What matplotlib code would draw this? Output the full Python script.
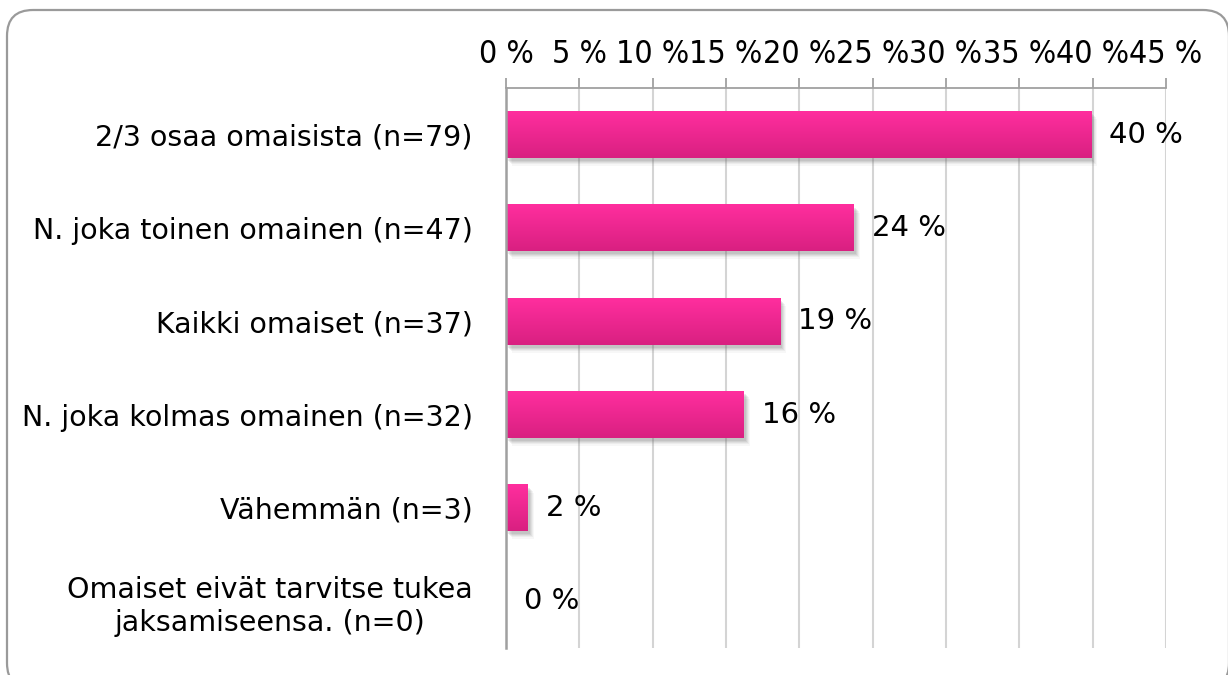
import matplotlib
matplotlib.use("Agg")
import matplotlib.pyplot as plt
import numpy as np
from matplotlib.patches import FancyBboxPatch, Rectangle
from matplotlib.colors import LinearSegmentedColormap
import matplotlib.transforms as mtransforms

categories = [
    "2/3 osaa omaisista (n=79)",
    "N. joka toinen omainen (n=47)",
    "Kaikki omaiset (n=37)",
    "N. joka kolmas omainen (n=32)",
    "Vähemmän (n=3)",
    "Omaiset eivät tarvitse tukea\njaksamiseensa. (n=0)",
]
values = [39.9, 23.7, 18.7, 16.2, 1.5, 0.0]
value_labels = ["40 %", "24 %", "19 %", "16 %", "2 %", "0 %"]
xticks = [0, 5, 10, 15, 20, 25, 30, 35, 40, 45]

plt.rcParams['font.family'] = ['DejaVu Sans']

fig = plt.figure(figsize=(12.28, 6.75), dpi=100)
ax = fig.add_axes([506/1228, 1-648/675, (1166-506)/1228, (648-88)/675])

# rounded border (pixel coordinates)
border = FancyBboxPatch((7, -14), 1222, 679,
                        boxstyle="round,pad=0,rounding_size=26",
                        transform=mtransforms.IdentityTransform(), fill=False,
                        edgecolor="#9a9a9a", linewidth=1.6, zorder=0)
fig.patches.append(border)

n = len(categories)
y = np.arange(n)
h = 0.5

ax.set_xlim(0, 45)
ax.set_ylim(n - 0.5, -0.5)

cmap = LinearSegmentedColormap.from_list("pk", ["#FF2E9E", "#D92081"])
grad = np.linspace(0, 1, 64).reshape(-1, 1)

for yi, v in zip(y, values):
    if v <= 0:
        continue
    for dx, dy, a in [(6, -8, 0.05), (5, -6, 0.07), (4, -5, 0.09), (3, -4, 0.11), (2, -3, 0.13)]:
        off = mtransforms.offset_copy(ax.transData, fig=fig, x=dx, y=dy, units='dots')
        ax.add_patch(Rectangle((0, yi - h/2), v, h, transform=off,
                               facecolor="#666666", alpha=a, edgecolor='none', zorder=2))
    ax.barh([yi], [v], height=h, color="#EE2890", zorder=3)
    ax.imshow(grad, cmap=cmap, aspect='auto', extent=(0, v, yi + h/2, yi - h/2),
              zorder=3.5, interpolation='bilinear')

for yi, v, lab in zip(y, values, value_labels):
    ax.annotate(lab, xy=(v, yi), xytext=(13, 0), textcoords='offset points',
                ha='left', va='center', fontsize=21,
                color='black', zorder=5)

ax.set_xlim(0, 45)
ax.set_ylim(n - 0.5, -0.5)

ax.xaxis.tick_top()
ax.set_xticks(xticks)
ax.set_xticklabels([f"{t} %" for t in xticks], fontsize=23, fontstretch='condensed')
ax.tick_params(axis='x', direction='out', length=7, width=1.3, color='#a0a0a0', pad=6)
ax.set_yticks(y)
ax.set_yticklabels(categories, fontsize=20.5)
for t in ax.get_yticklabels():
    t.set_multialignment('center')
ax.tick_params(axis='y', length=0, pad=24)

ax.grid(axis='x', color='#d4d4d4', linewidth=1.5, zorder=0)
ax.set_axisbelow(True)
for s in ['right', 'bottom']:
    ax.spines[s].set_visible(False)
ax.spines['top'].set_color('#a0a0a0')
ax.spines['top'].set_linewidth(1.3)
ax.spines['left'].set_color('#a0a0a0')
ax.spines['left'].set_linewidth(1.8)
ax.spines['left'].set_zorder(6)

fig.savefig("out.png", dpi=100)
